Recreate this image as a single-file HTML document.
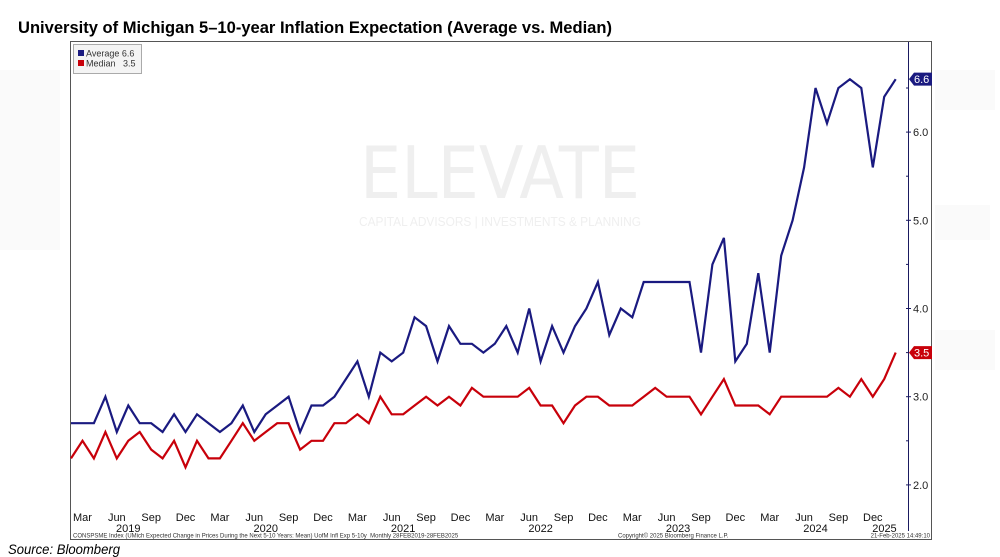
<!DOCTYPE html>
<html><head><meta charset="utf-8">
<style>
html,body{margin:0;padding:0;background:#fff;}
body{width:1000px;height:557px;overflow:hidden;position:relative;font-family:"Liberation Sans",sans-serif;}
svg{position:absolute;left:0;top:0;}
</style></head>
<body>
<svg id="chart" width="1000" height="557" viewBox="0 0 1000 557">
  <rect x="0" y="0" width="1000" height="557" fill="#fff"/>
  <g fill="#fafafa">
    <rect x="0" y="70" width="60" height="180"/>
    <rect x="935" y="70" width="60" height="40"/>
    <rect x="935" y="205" width="55" height="35"/>
    <rect x="935" y="330" width="60" height="40"/>
  </g>
  <text x="18" y="33" font-family="Liberation Sans, sans-serif" font-weight="bold" font-size="17" textLength="594" lengthAdjust="spacingAndGlyphs" fill="#000">University of Michigan 5–10-year Inflation Expectation (Average vs. Median)</text>
  <rect x="70.5" y="41.5" width="861" height="498" fill="#fff" stroke="#555" stroke-width="1"/>
  <g fill="#efefef">
    <text x="500" y="198" text-anchor="middle" font-size="72" font-family="DejaVu Sans, sans-serif" textLength="280" lengthAdjust="spacingAndGlyphs">ELEVATE</text>
    <text x="500" y="226" text-anchor="middle" font-size="13" font-family="Liberation Sans, sans-serif" textLength="282" lengthAdjust="spacingAndGlyphs">CAPITAL ADVISORS | INVESTMENTS &amp; PLANNING</text>
  </g>
  <g id="axes"></g>
  <g id="series"></g>
  <g>
    <rect x="73.5" y="44.5" width="68" height="29" fill="#f4f4f4" stroke="#aaa"/>
    <rect x="78" y="50" width="6" height="6" fill="#1a1a80"/>
    <text x="86" y="56.5" font-size="9" fill="#333">Average 6.6</text>
    <rect x="78" y="60" width="6" height="6" fill="#c8000a"/>
    <text x="86" y="66.5" font-size="9" fill="#333">Median &#160;&#160;3.5</text>
  </g>
  <text x="73" y="537.5" font-size="6" fill="#333">CONSPSME Index (UMich Expected Change in Prices During the Next 5-10 Years: Mean) UofM Infl Exp 5-10y &#160;Monthly 28FEB2019-28FEB2025</text>
  <text x="618" y="537.5" font-size="6" fill="#333">Copyright© 2025 Bloomberg Finance L.P.</text>
  <text x="930" y="537.5" font-size="6" fill="#333" text-anchor="end">21-Feb-2025 14:49:10</text>
  <text x="8" y="554" font-size="14" font-style="italic" fill="#000" textLength="112" lengthAdjust="spacingAndGlyphs">Source: Bloomberg</text>
</svg>
<script>
const average = [2.7,2.7,2.7,3.0,2.6,2.9,2.7,2.7,2.6,2.8,2.6,
  2.8,2.7,2.6,2.7,2.9,2.6,2.8,2.9,3.0,2.6,2.9,2.9,
  3.0,3.2,3.4,3.0,3.5,3.4,3.5,3.9,3.8,3.4,3.8,3.6,
  3.6,3.5,3.6,3.8,3.5,4.0,3.4,3.8,3.5,3.8,4.0,4.3,
  3.7,4.0,3.9,4.3,4.3,4.3,4.3,4.3,3.5,4.5,4.8,3.4,
  3.6,4.4,3.5,4.6,5.0,5.6,6.5,6.1,6.5,6.6,6.5,5.6,
  6.4,6.6];
const median = [2.3,2.5,2.3,2.6,2.3,2.5,2.6,2.4,2.3,2.5,2.2,
  2.5,2.3,2.3,2.5,2.7,2.5,2.6,2.7,2.7,2.4,2.5,2.5,
  2.7,2.7,2.8,2.7,3.0,2.8,2.8,2.9,3.0,2.9,3.0,2.9,
  3.1,3.0,3.0,3.0,3.0,3.1,2.9,2.9,2.7,2.9,3.0,3.0,
  2.9,2.9,2.9,3.0,3.1,3.0,3.0,3.0,2.8,3.0,3.2,2.9,
  2.9,2.9,2.8,3.0,3.0,3.0,3.0,3.0,3.1,3.0,3.2,3.0,
  3.2,3.5];
const yTicks = [2.0,3.0,4.0,5.0,6.0];
const yMinorTicks = [2.5,3.5,4.5,5.5,6.5];
const monthLabels = ["Mar","Jun","Sep","Dec"];
const years = ["2019","2020","2021","2022","2023","2024","2025"];

const NS = "http://www.w3.org/2000/svg";
function xPos(i){ return 71 + i * (895.7 - 71) / 72; }
function yPos(v){ return 396.7 - (v - 3.0) * 88.2; }
function mk(tag, attrs, parent, txt){
  const e = document.createElementNS(NS, tag);
  for (const k in attrs) e.setAttribute(k, attrs[k]);
  if (txt !== undefined) e.textContent = txt;
  parent.appendChild(e);
  return e;
}
const axes = document.getElementById('axes');
const series = document.getElementById('series');

const axisLine = mk('line', {x1:908.5, y1:42, x2:908.5, y2:531, stroke:'#1a1a60', 'stroke-width':1}, axes);


yTicks.forEach(v => {
  const y = yPos(v);
  const t = mk('line', {x1:906, y1:y, x2:911, y2:y, stroke:'#1a1a60'}, axes);
  
  
  const l = mk('text', {x:913, y:y+4, 'font-size':11, fill:'#222'}, axes, v.toFixed(1));
  
  
});
yMinorTicks.forEach(v => {
  const y = yPos(v);
  const t = mk('line', {x1:906, y1:y, x2:908.5, y2:y, stroke:'#1a1a60'}, axes);
  
  
});

for (let i = 1; i < average.length; i += 3) {
  const m = monthLabels[((i - 1) / 3) % 4];
  const l = mk('text', {x:xPos(i), y:521, 'font-size':11, fill:'#111', 'text-anchor':'middle'}, axes, m);
  
  
}
years.forEach((yr, k) => {
  const idx = k < 6 ? 5 + 12 * k : 71;
  const anchor = k < 6 ? 'middle' : 'end';
  const xx = k < 6 ? xPos(idx) : xPos(72) + 1;
  const l = mk('text', {x:xx, y:532, 'font-size':11, fill:'#111', 'text-anchor':anchor}, axes, yr);
  
  
});

function drawLine(data, color, name){
  const pts = data.map((v, i) => xPos(i).toFixed(1) + ',' + yPos(v).toFixed(1)).join(' ');
  const p = mk('polyline', {points:pts, fill:'none', stroke:color, 'stroke-width':2.2, 'stroke-linejoin':'miter'}, series);
  
  
  const last = data[data.length - 1];
  const y = yPos(last);
  const b = mk('polygon', {points:`909,${y} 914,${y-6.5} 932,${y-6.5} 932,${y+6.5} 914,${y+6.5}`, fill:color}, series);
  
  
  const t = mk('text', {x:914, y:y+4, 'font-size':11, fill:'#fff'}, series, last.toFixed(1));
  
  
}
drawLine(median, '#c8000a', 'median-line');
drawLine(average, '#1a1a80', 'average-line');
</script>
</body></html>
